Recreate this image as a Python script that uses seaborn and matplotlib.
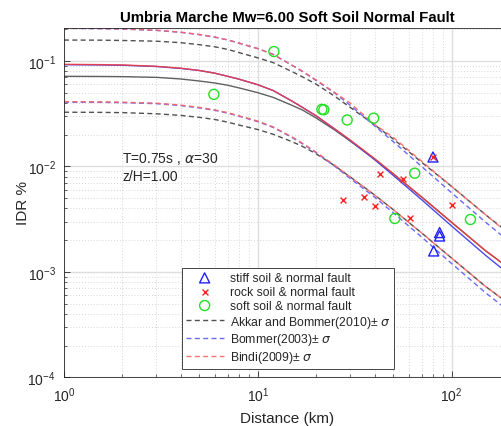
import numpy as np
import pandas as pd
import matplotlib
matplotlib.use("Agg")
import matplotlib.pyplot as plt
import matplotlib.ticker as mticker
import seaborn as sns

# ---------------- data ----------------
dist = [1, 1.5, 2, 3, 4, 5, 6, 7, 8, 10, 12, 15, 17, 20, 25, 30, 40, 50, 70, 100, 150, 200]

akkar_med = [0.0716, 0.0714, 0.0711, 0.0700, 0.0676, 0.0646, 0.0619, 0.0589, 0.0556, 0.0501, 0.0452,
             0.0380, 0.0343, 0.0288, 0.0221, 0.01738, 0.01175, 0.00851, 0.00513, 0.00295, 0.00158, 0.00107]
akkar_up = [0.1581, 0.1578, 0.1567, 0.1542, 0.1493, 0.1429, 0.1365, 0.1288, 0.1202, 0.1072, 0.0966,
            0.0794, 0.0708, 0.0603, 0.0462, 0.0363, 0.02483, 0.0182, 0.01096, 0.00646, 0.00347, 0.00229]
akkar_lo = [0.0327, 0.0326, 0.0324, 0.0316, 0.0305, 0.0292, 0.0279, 0.0263, 0.0247, 0.0224, 0.0202,
            0.01718, 0.0155, 0.01318, 0.01012, 0.00794, 0.00537, 0.00389, 0.00234, 0.00135, 0.000724, 0.00049]

bommer_med = [0.0923, 0.0918, 0.0912, 0.0887, 0.0851, 0.0813, 0.0767, 0.0716, 0.0673, 0.0596, 0.0525,
              0.0417, 0.0363, 0.0302, 0.02254, 0.01758, 0.01161, 0.00822, 0.00484, 0.00272, 0.00143, 0.000933]
bommer_up = [0.2042, 0.2028, 0.2009, 0.1950, 0.1871, 0.1778, 0.1683, 0.1585, 0.1479, 0.1312, 0.1156,
             0.0912, 0.0794, 0.0653, 0.0495, 0.0380, 0.02427, 0.01718, 0.0100, 0.00562, 0.00295, 0.00191]
bommer_lo = [0.0407, 0.0406, 0.0403, 0.0394, 0.0378, 0.0359, 0.0341, 0.0320, 0.0300, 0.0266, 0.02344,
             0.01884, 0.0164, 0.01349, 0.0100, 0.00767, 0.00513, 0.00363, 0.00214, 0.00120, 0.000631, 0.000417]

bindi_med = [0.0931, 0.0925, 0.0918, 0.0891, 0.0855, 0.0813, 0.0767, 0.0716, 0.0673, 0.0596, 0.0525,
             0.0417, 0.0363, 0.0302, 0.02265, 0.0178, 0.01189, 0.00851, 0.00513, 0.00295, 0.00158, 0.00107]
bindi_up = [0.2051, 0.2037, 0.2018, 0.1960, 0.1879, 0.1786, 0.1690, 0.1585, 0.1479, 0.1312, 0.1156,
            0.0912, 0.0800, 0.0661, 0.0501, 0.0398, 0.0251, 0.01884, 0.01122, 0.00646, 0.00347, 0.00224]
bindi_lo = [0.0412, 0.0410, 0.0407, 0.0398, 0.0382, 0.0363, 0.0344, 0.0324, 0.0302, 0.0269, 0.0237,
            0.01905, 0.0166, 0.01365, 0.01023, 0.00794, 0.00537, 0.00389, 0.00234, 0.00135, 0.000724, 0.00049]

stiff_d = [80.1, 86.7, 86.7, 80.8]
stiff_idr = [0.0123, 0.00236, 0.00219, 0.00158]

rock_d = [80.1, 42.7, 55.9, 27.5, 35.2, 40.4, 60.8, 100.2]
rock_idr = [0.0124, 0.00850, 0.00762, 0.00479, 0.00514, 0.00423, 0.00321, 0.00430]

soft_d = [5.93, 12.1, 21.4, 21.9, 28.9, 39.6, 64.5, 50.9, 125.0]
soft_idr = [0.0483, 0.123, 0.0348, 0.0345, 0.0276, 0.0287, 0.00863, 0.00321, 0.00314]

# ---------------- styling ----------------
sns.set_style("ticks")
plt.rcParams["font.family"] = ["Liberation Sans", "DejaVu Sans"]
plt.rcParams["mathtext.fontset"] = "dejavusans"
TXT = "#262626"

fig = plt.figure(figsize=(5.01, 4.27), dpi=100)
ax = fig.add_axes([64 / 501, 48.7 / 427, 446 / 501, 349.8 / 427])
ax.set_xscale("log")
ax.set_yscale("log")

GRAY = "#505050"
BLUE = "#6a6aff"
RED = "#ff6060"
DASH = (0, (3.6, 2.4))
LW = 1.0


def curve(vals, color, ls, label="_nolegend_", lw=LW, alpha=1.0, z=2):
    df = pd.DataFrame({"d": dist, "v": vals})
    sns.lineplot(data=df, x="d", y="v", ax=ax, color=color, linestyle=ls,
                 linewidth=lw, label=label, estimator=None, sort=False,
                 alpha=alpha, zorder=z, legend=False)


# Akkar and Bommer (2010)
curve(akkar_up, GRAY, DASH, "Akkar and Bommer(2010)\u00b1 $\\sigma$")
curve(akkar_lo, GRAY, DASH)
curve(akkar_med, "#606060", "-")
# Bommer (2003)
curve(bommer_up, BLUE, DASH, "Bommer(2003)\u00b1 $\\sigma$")
curve(bommer_lo, BLUE, DASH)
curve(bommer_med, "#4a4af0", "-")
# Bindi (2009)
curve(bindi_up, RED, DASH, "Bindi(2009)\u00b1 $\\sigma$", alpha=0.9)
curve(bindi_lo, RED, DASH, alpha=0.9)
curve(bindi_med, "#f03c3c", "-", alpha=0.9)

sns.scatterplot(x=stiff_d, y=stiff_idr, ax=ax, marker="^", s=52, color="#2020ff",
                facecolors="none", edgecolors="#2020ff", linewidths=1.0,
                label="stiff soil & normal fault", zorder=4, legend=False)
sns.scatterplot(x=rock_d, y=rock_idr, ax=ax, marker="x", s=18, color="#ff2020",
                linewidths=1.0, label="rock soil & normal fault", zorder=4, legend=False)
sns.scatterplot(x=soft_d, y=soft_idr, ax=ax, marker="o", s=52, color="#22e022",
                facecolors="none", edgecolors="#22e022", linewidths=1.0,
                label="soft soil & normal fault", zorder=4, legend=False)

ax.set_xlim(1, 200)
ax.set_ylim(1e-4, 0.208)

ax.xaxis.set_major_locator(mticker.LogLocator(base=10, numticks=10))
ax.yaxis.set_major_locator(mticker.LogLocator(base=10, numticks=10))
ax.xaxis.set_minor_locator(mticker.LogLocator(base=10, subs=np.arange(2, 10), numticks=20))
ax.yaxis.set_minor_locator(mticker.LogLocator(base=10, subs=np.arange(2, 10), numticks=20))
ax.xaxis.set_minor_formatter(mticker.NullFormatter())
ax.yaxis.set_minor_formatter(mticker.NullFormatter())

ax.grid(True, which="major", color="#dedede", linestyle="-", linewidth=1.0, zorder=0)
ax.grid(True, which="minor", color="#d6d6d6", linestyle=(0, (1, 2)), linewidth=0.7, zorder=0)
ax.set_axisbelow(True)

ax.tick_params(which="major", direction="in", length=4, width=0.6, colors=TXT,
               labelsize=10, pad=6, top=False, right=False)
ax.tick_params(which="minor", direction="in", length=2.2, width=0.5, colors=TXT,
               top=False, right=False)
for sp in ax.spines.values():
    sp.set_color(TXT)
    sp.set_linewidth(0.6)

ax.set_xlabel("Distance (km)", fontsize=11, color=TXT, labelpad=5)
ax.set_ylabel("IDR %", fontsize=11, color=TXT, labelpad=-2)
ax.set_title("Umbria Marche Mw=6.00 Soft Soil Normal Fault", fontsize=10.8,
             fontweight="bold", color="black", pad=5)

ax.text(2.0, 0.0121, "T=0.75s , $\\alpha$=30", fontsize=10, va="center", ha="left", color=TXT)
ax.text(2.0, 0.0081, "z/H=1.00", fontsize=10, va="center", ha="left", color=TXT)

order = ["stiff soil & normal fault", "rock soil & normal fault", "soft soil & normal fault",
         "Akkar and Bommer(2010)\u00b1 $\\sigma$", "Bommer(2003)\u00b1 $\\sigma$",
         "Bindi(2009)\u00b1 $\\sigma$"]
h, l = ax.get_legend_handles_labels()
hd = dict(zip(l, h))
leg = ax.legend([hd[k] for k in order], order, loc="lower left",
                bbox_to_anchor=(0.2646, 0.024), borderaxespad=0, fontsize=8.8,
                frameon=True, fancybox=False, framealpha=1, edgecolor=TXT,
                handlelength=3.1, handletextpad=0.55, labelspacing=0.15,
                borderpad=0.3)
leg.get_frame().set_linewidth(0.6)
for t in leg.get_texts():
    t.set_color(TXT)

fig.savefig("out.png", dpi=100)
